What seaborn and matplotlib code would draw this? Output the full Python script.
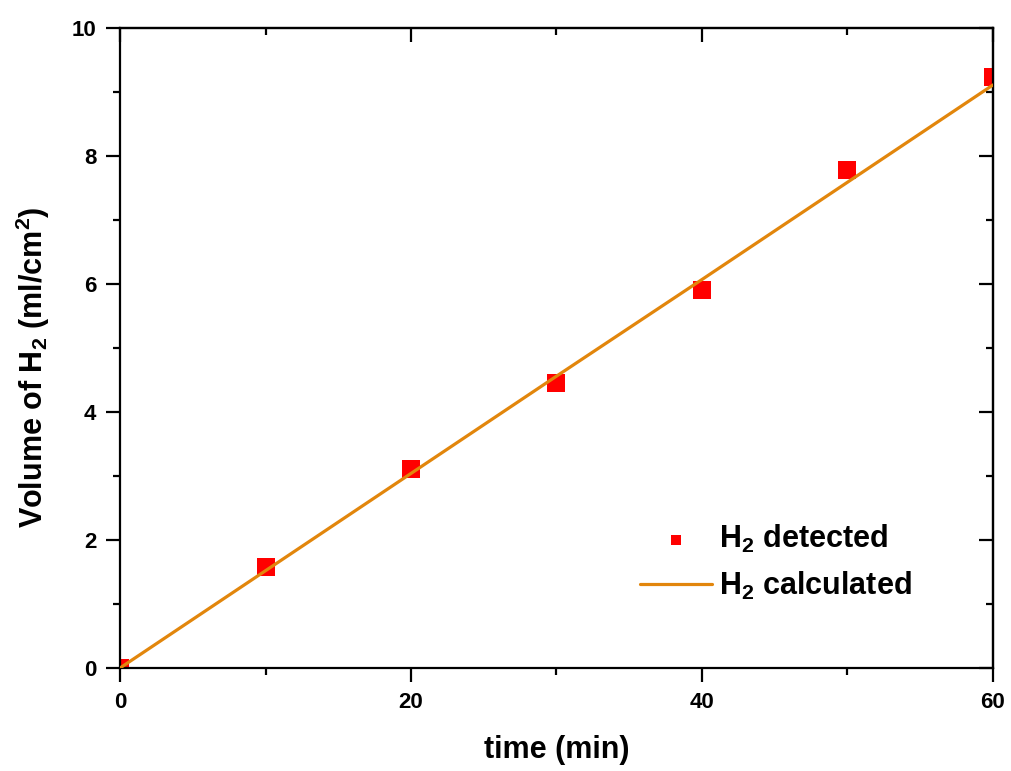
import numpy as np
import pandas as pd
import seaborn as sns
import matplotlib.pyplot as plt
from matplotlib.ticker import MultipleLocator

# measured H2 volume (red squares)
time_detected = [0, 10, 20, 30, 40, 50, 60]
volume_detected = [0.0, 1.58, 3.11, 4.45, 5.91, 7.78, 9.23]

# calculated H2 volume (orange line)
time_calc = [0, 10, 20, 30, 40, 50, 60]
volume_calc = [0.0, 1.52, 3.04, 4.56, 6.07, 7.59, 9.11]

sns.set_theme(style="ticks")
plt.rcParams['font.family'] = ['Liberation Sans', 'DejaVu Sans']
plt.rcParams['font.weight'] = 'bold'
plt.rcParams['axes.labelweight'] = 'bold'
plt.rcParams['mathtext.default'] = 'regular'
for key in ['text.color', 'axes.labelcolor', 'xtick.color', 'ytick.color']:
    plt.rcParams[key] = 'black'

df_det = pd.DataFrame({'time': time_detected, 'volume': volume_detected})
df_calc = pd.DataFrame({'time': time_calc, 'volume': volume_calc})

fig = plt.figure(figsize=(10.12, 7.71), dpi=100)
ax = fig.add_axes([0.1186, 0.1336, 0.8626, 0.8301])

sns.scatterplot(data=df_det, x='time', y='volume', ax=ax, marker='s', s=170,
                color='#FF0000', linewidth=0, label=r'H$_2$ detected', zorder=2)
sns.lineplot(data=df_calc, x='time', y='volume', ax=ax, color='#E2860C',
             linewidth=2.3, label=r'H$_2$ calculated', zorder=3)

ax.set_xlim(0, 60)
ax.set_ylim(0, 10)
ax.xaxis.set_major_locator(MultipleLocator(20))
ax.xaxis.set_minor_locator(MultipleLocator(10))
ax.yaxis.set_major_locator(MultipleLocator(2))
ax.yaxis.set_minor_locator(MultipleLocator(1))

for side in ['left', 'right', 'top', 'bottom']:
    ax.spines[side].set_linewidth(1.6)
    ax.spines[side].set_color('black')

ax.tick_params(which='both', direction='out', width=1.6, colors='black',
               labelsize=16, pad=7)
ax.tick_params(which='major', length=10)
ax.tick_params(which='minor', length=5)

# inward ticks on top and right spines
ax_top = ax.secondary_xaxis('top')
ax_top.xaxis.set_major_locator(MultipleLocator(20))
ax_top.xaxis.set_minor_locator(MultipleLocator(10))
ax_top.tick_params(which='both', direction='in', width=1.6, labeltop=False)
ax_top.tick_params(which='major', length=10)
ax_top.tick_params(which='minor', length=5)
ax_top.spines['top'].set_linewidth(1.6)
ax_right = ax.secondary_yaxis('right')
ax_right.yaxis.set_major_locator(MultipleLocator(2))
ax_right.yaxis.set_minor_locator(MultipleLocator(1))
ax_right.tick_params(which='both', direction='in', width=1.6, labelright=False)
ax_right.tick_params(which='major', length=10)
ax_right.tick_params(which='minor', length=5)
ax_right.spines['right'].set_linewidth(1.6)

ax.set_xlabel('time (min)', fontsize=22, fontweight='bold', labelpad=16)
ax.set_ylabel(r'Volume of H$_2$ (ml/cm$^2$)', fontsize=22, fontweight='bold')
ax.yaxis.set_label_coords(-0.078, 0.47)

leg = ax.legend(loc='upper left', bbox_to_anchor=(0.564, 0.27), frameon=False,
                prop={'size': 22, 'weight': 'bold'}, handlelength=2.35,
                handletextpad=0.25, labelspacing=0.5, markerscale=0.6)

fig.savefig('out.png', dpi=100)
